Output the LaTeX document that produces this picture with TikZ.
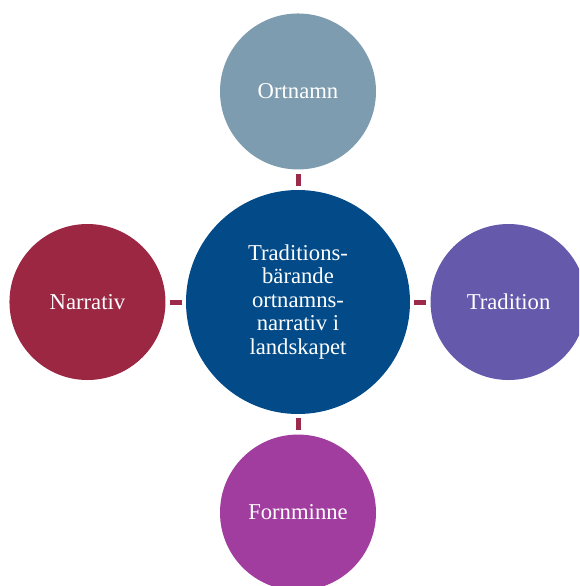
\documentclass[tikz,border=0pt]{standalone}
\usepackage{fontspec}
\setmainfont{Liberation Serif}
\usetikzlibrary{positioning}

\definecolor{hubblue}{HTML}{024B88}
\definecolor{namegrey}{HTML}{7D9CB0}
\definecolor{tradviolet}{HTML}{6559AC}
\definecolor{relicpurple}{HTML}{A23DA0}
\definecolor{storyred}{HTML}{9B2743}
\definecolor{linkred}{HTML}{9C2A4A}

\begin{document}
\begin{tikzpicture}[x=0.75pt,y=-0.75pt,
		node distance=15pt,
		every circle node/.style={inner sep=0mm,text=white,align=center,
			font=\fontsize{17}{17.6}\selectfont},
		hub/.style={circle,minimum size=168pt,fill=hubblue},
		leaf/.style={circle,minimum size=117pt},
		link/.style={draw=linkred,line width=3.75pt,shorten <=2.5pt,shorten >=3pt}]
	
	\clip (0,0) rectangle (579,586);
	
	\node[hub] (hub) at (298,302) {Traditions-\\bärande\\ortnamns-\\narrativ i\\landskapet};
	\node[leaf,fill=namegrey,above=of hub] (ortnamn) {Ortnamn};
	\node[leaf,fill=tradviolet,right=of hub] (tradition) {Tradition};
	\node[leaf,fill=relicpurple,below=of hub] (fornminne) {Fornminne};
	\node[leaf,fill=storyred,left=of hub] (narrativ) {Narrativ};
	
	% short ties between the hub and each circle
	\foreach \leafname in {ortnamn,tradition,fornminne,narrativ}
		\draw[link] (hub) -- (\leafname);
\end{tikzpicture}
\end{document}
